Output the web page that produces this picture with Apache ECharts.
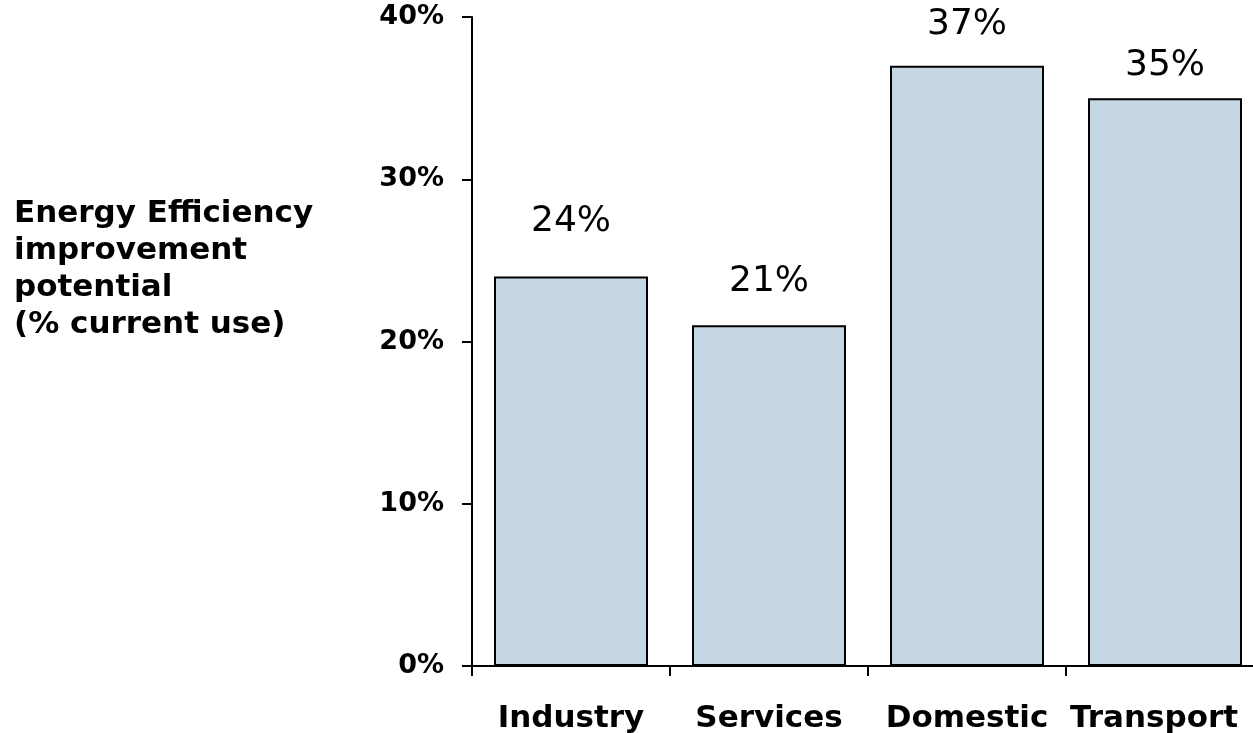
<!DOCTYPE html>
<html>
<head>
<meta charset="utf-8">
<script src="https://cdn.jsdelivr.net/npm/echarts@6/dist/echarts.min.js"></script>
<style>
  html, body { margin: 0; padding: 0; background: #fff; }
  #main { width: 1253px; height: 733px; }
</style>
</head>
<body>
<div id="main"></div>
<script>
const categories = ['Industry', 'Services', 'Domestic', 'Transport']
const potential = [24, 21, 37, 35]
const yTitleLines = ['Energy Efficiency', 'improvement', 'potential', '(% current use)']

const chart = echarts.init(document.getElementById('main'))
const font = 'DejaVu Sans, Verdana, sans-serif'
// labels sit at uneven heights above the bars in the original
const labelGap = [37, 26, 23, 14]

chart.setOption({
  animation: false,
  backgroundColor: '#fff',
  grid: { left: 472, top: 17, right: -11, bottom: 67, outerBoundsMode: 'none', containLabel: false },
  graphic: [
    {
      type: 'text',
      left: 14,
      top: 195,
      style: {
        text: yTitleLines.join('\n'),
        font: 'bold 31px ' + font,
        lineHeight: 37,
        fill: '#000'
      }
    }
  ],
  xAxis: {
    type: 'category',
    // last label is pulled in a little so it stays on the page
    data: categories.map((c, i) => (i === categories.length - 1 ? { value: c, textStyle: { padding: [0, 22, 0, 0] } } : c)),
    axisLine: { lineStyle: { color: '#000', width: 2 } },
    axisTick: { show: true, length: 10, lineStyle: { color: '#000', width: 2 } },
    axisLabel: {
      interval: 0,
      color: '#000',
      fontFamily: font,
      fontWeight: 'bold',
      fontSize: 31,
      margin: 37
    }
  },
  yAxis: {
    type: 'value',
    min: 0,
    max: 40,
    interval: 10,
    axisLine: { show: true, lineStyle: { color: '#000', width: 2 } },
    axisTick: { show: true, length: 10, lineStyle: { color: '#000', width: 2 } },
    splitLine: { show: false },
    axisLabel: {
      color: '#000',
      fontFamily: font,
      fontWeight: 'bold',
      fontSize: 27,
      margin: 28,
      formatter: '{value}%'
    }
  },
  series: [
    {
      type: 'bar',
      data: potential.map((v, i) => ({ value: v, label: { distance: labelGap[i] } })),
      barWidth: 154,
      itemStyle: { color: '#c5d7e3', borderColor: '#000', borderWidth: 2 },
      label: {
        show: true,
        position: 'top',
        formatter: '{c}%',
        color: '#000',
        fontFamily: font,
        fontSize: 36
      }
    }
  ]
})
</script>
</body>
</html>
